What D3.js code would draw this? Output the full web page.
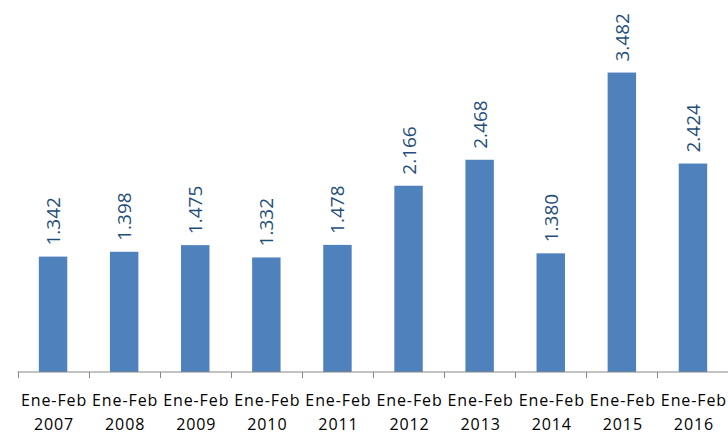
<!DOCTYPE html>
<html>
<head>
<meta charset="utf-8">
<script src="https://cdn.jsdelivr.net/npm/d3@7"></script>
<style>
  html, body { margin: 0; padding: 0; background: #fff; }
  svg { display: block; }
</style>
</head>
<body>
<svg id="chart" width="728" height="434"></svg>
<script>
// data
const periods = ['Ene-Feb', 'Ene-Feb', 'Ene-Feb', 'Ene-Feb', 'Ene-Feb', 'Ene-Feb', 'Ene-Feb', 'Ene-Feb', 'Ene-Feb', 'Ene-Feb']
const years = ['2007', '2008', '2009', '2010', '2011', '2012', '2013', '2014', '2015', '2016']
const values = [1.342, 1.398, 1.475, 1.332, 1.478, 2.166, 2.468, 1.380, 3.482, 2.424]
const yDomain = [0, 4]

const svg = d3.select('#chart')
const font = '"Open Sans", "Noto Sans", sans-serif'
const baseY = 372

// band scale for the axis ticks, and one with padding for the bars
const xAxisScale = d3.scaleBand().domain(years).range([17.5, 728.5]).padding(0)
const x = d3.scaleBand().domain(years).range([17.5, 728.5]).paddingInner(0.6).paddingOuter(0.3)
const y = d3.scaleLinear().domain(yDomain).range([baseY, 28])

const data = years.map((yr, i) => ({ year: yr, period: periods[i], value: values[i] }))

svg.append('g').selectAll('rect')
  .data(data)
  .join('rect')
  .attr('x', d => x(d.year))
  .attr('width', x.bandwidth())
  .attr('y', d => y(d.value))
  .attr('height', d => y(0) - y(d.value))
  .attr('fill', '#4F81BD')

// value labels, rotated
const fmt = v => v.toFixed(3)
svg.append('g').selectAll('text')
  .data(data)
  .join('text')
  .attr('transform', d => `translate(${x(d.year) + x.bandwidth() / 2 + 7},${y(d.value) - 11}) rotate(-90)`)
  .attr('font-family', font)
  .attr('font-size', 19)
  .attr('fill', '#1F4E79')
  .text(d => fmt(d.value))

// x axis
const axis = svg.append('g').attr('transform', `translate(0,${baseY})`)
axis.append('line')
  .attr('x1', 17.5).attr('x2', 728)
  .attr('stroke', '#868686').attr('stroke-width', 1)
const tickPos = years.map(yr => xAxisScale(yr)).concat([xAxisScale.range()[1]])
axis.selectAll('.tick')
  .data(tickPos)
  .join('line')
  .attr('class', 'tick')
  .attr('x1', d => Math.round(d) + 0.5).attr('x2', d => Math.round(d) + 0.5)
  .attr('y1', 0).attr('y2', 6)
  .attr('stroke', '#868686')

const labels = svg.append('g').selectAll('text')
  .data(data)
  .join('text')
  .attr('text-anchor', 'middle')
  .attr('font-family', font)
  .attr('font-size', 16)
  .attr('letter-spacing', 0.9)
  .attr('fill', '#000')
labels.append('tspan')
  .attr('x', d => xAxisScale(d.year) + xAxisScale.bandwidth() / 2 + 1)
  .attr('y', 406)
  .text(d => d.period)
labels.append('tspan')
  .attr('x', d => xAxisScale(d.year) + xAxisScale.bandwidth() / 2 + 1)
  .attr('y', 430)
  .text(d => d.year)
</script>
</body>
</html>
